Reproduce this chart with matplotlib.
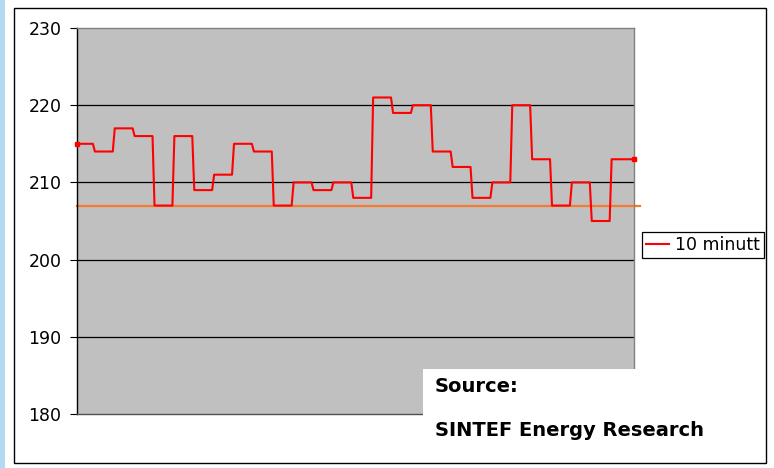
import numpy as np
import matplotlib.pyplot as plt
from matplotlib.patches import Rectangle

# 10-minute levels, in order
levels = [215, 214, 217, 216, 207, 216, 209, 211, 215, 214,
          207, 210, 209, 210, 208, 221, 219, 220, 214, 212,
          208, 210, 220, 213, 207, 210, 205, 213]
# samples held at each level (first block is cut short, last runs on)
counts = [9] + [10] * 26 + [12]
threshold = 207

y_ticks = [180, 190, 200, 210, 220, 230]
series_label = '10 minutt'
source_lines = ['Source:', 'SINTEF Energy Research']

values = np.repeat(levels, counts)
x = np.arange(len(values))

fig = plt.figure(figsize=(7.74, 4.68), dpi=100)
ax = fig.add_axes([77 / 774, 1 - 414 / 468, 556.5 / 774, 386 / 468])
ax.set_facecolor('#C0C0C0')

for yv in y_ticks[1:-1]:
    ax.axhline(yv, color='black', lw=0.9, zorder=1)

ax.plot(x, values, color='#FF0000', lw=1.5, zorder=3, label=series_label)
# small end dots on the series
ax.plot(x[[0, -1]], values[[0, -1]], ls='none', marker='s', markersize=2.5,
        color='#FF0000', zorder=3, clip_on=False)
ax.axhline(threshold, xmin=0, xmax=1.011, color='#F47B30', lw=1.6,
           zorder=2, clip_on=False)

ax.set_xlim(0, len(values) - 1)
ax.set_ylim(180, 230)
ax.set_yticks(y_ticks)
ax.set_xticks([])
ax.tick_params(axis='y', direction='out', length=4.7, width=0.8,
               pad=6.5, labelsize=12.5, colors='black')
ax.spines['left'].set_color('black')
ax.spines['bottom'].set_color('#505050')
ax.spines['top'].set_color('#808080')
ax.spines['right'].set_color('#808080')
for s in ax.spines.values():
    s.set_linewidth(1.0)

leg = ax.legend(loc='center left', bbox_to_anchor=(642 / 774, 1 - 245 / 468),
                bbox_transform=fig.transFigure, fontsize=12.5, frameon=True,
                fancybox=False, edgecolor='black', borderpad=0.25,
                borderaxespad=0, handlelength=1.3, handletextpad=0.35)
leg.get_frame().set_linewidth(0.9)
leg.get_frame().set_alpha(1)

# light blue slide edge on the left
fig.add_artist(Rectangle((0, 0), 5 / 774, 1, transform=fig.transFigure,
                         facecolor='#B3DAF2', edgecolor='none', zorder=4))

# white source box laid over the lower right corner
fig.add_artist(Rectangle((423 / 774, 1 - 463 / 468), 344 / 774, 94 / 468,
                         transform=fig.transFigure, facecolor='white',
                         edgecolor='none', zorder=5))
fig.text(435 / 774, 1 - 392 / 468, source_lines[0], fontsize=14,
         fontweight='bold', va='baseline', ha='left', zorder=6)
fig.text(435 / 774, 1 - 436 / 468, source_lines[1], fontsize=14,
         fontweight='bold', va='baseline', ha='left', zorder=6)

# chart frame
fig.add_artist(Rectangle((14 / 774, 1 - 463 / 468), 752 / 774, 455 / 468,
                         transform=fig.transFigure, facecolor='none',
                         edgecolor='black', lw=1.0, zorder=7))

fig.savefig('out.png', dpi=100)
